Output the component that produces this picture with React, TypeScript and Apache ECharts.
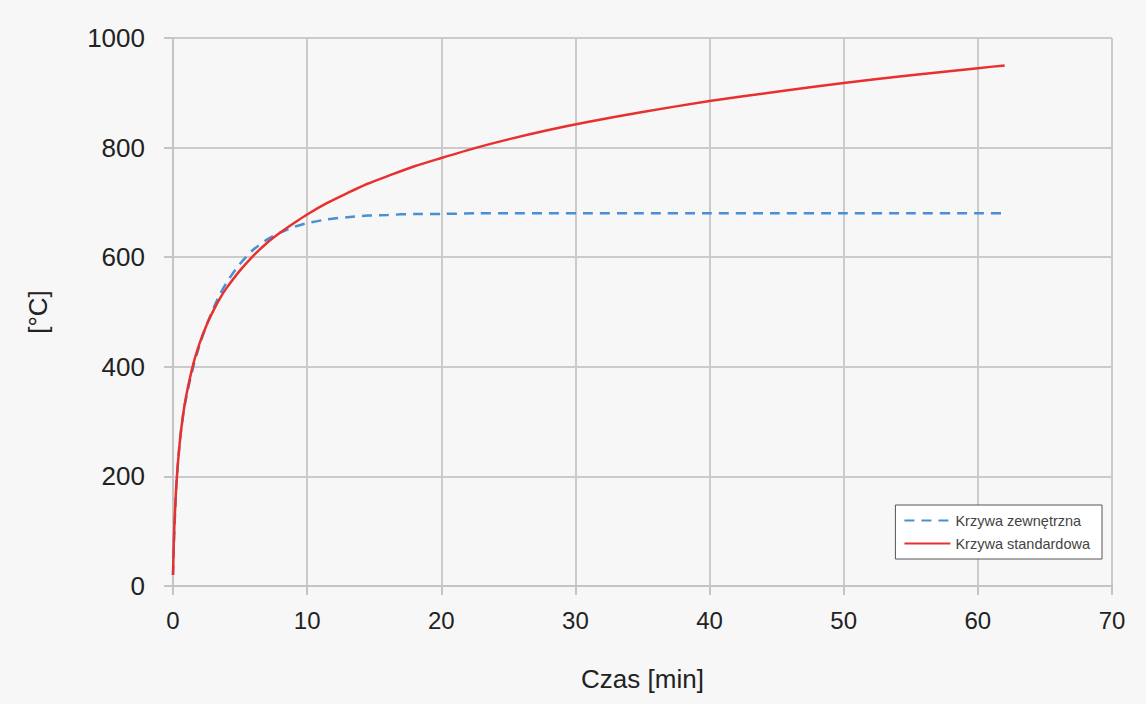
import React, { useEffect, useRef } from "react";
import * as echarts from "echarts";

const times = [0, 0.05, 0.1, 0.25, 0.5, 0.75, 1, 1.5, 2, 2.5, 3, 3.5, 4, 5, 6, 7, 8, 9, 10, 11.5, 13, 14.5, 16, 18, 20, 22.5, 25, 28, 31, 35, 40, 45, 50, 55, 60, 62];
const standardCurve = [20, 70, 108, 185, 261, 312, 349, 404, 444, 476, 502, 525, 544, 576, 603, 626, 645, 662, 678, 699, 717, 734, 748, 766, 781, 799, 815, 832, 847, 865, 885, 902, 918, 932, 945, 950];
const externalCurve = [20, 63, 100, 182, 263, 311, 346, 399, 441, 476, 506, 532, 554, 588, 614, 632, 645, 655, 662, 669, 673, 676, 677, 679, 679, 680, 680, 680, 680, 680, 680, 680, 680, 680, 680, 680];
const seriesNames = ["Krzywa zewnętrzna", "Krzywa standardowa"];
const xAxisTitle = "Czas [min]";
const yAxisTitle = "[°C]";

export default function App() {
  const ref = useRef<HTMLDivElement>(null);
  useEffect(() => {
    if (!ref.current) return;
    const chart = echarts.init(ref.current, null, { renderer: "svg" });
    const ext = times.map((t, i) => [t, externalCurve[i]]);
    const std = times.map((t, i) => [t, standardCurve[i]]);
    chart.setOption({
      animation: false,
      backgroundColor: "#f7f7f7",
      grid: { left: 173, right: 34, top: 38, bottom: 118 },
      legend: {
        orient: "vertical",
        right: 44,
        top: 505,
        data: seriesNames,
        backgroundColor: "#ffffff",
        borderColor: "#555555",
        borderWidth: 1,
        borderRadius: 0,
        padding: [8, 12, 8, 8],
        itemWidth: 46,
        itemHeight: 12,
        itemGap: 8,
        itemStyle: { opacity: 0 },
        textStyle: { fontFamily: "Liberation Sans", fontSize: 14.5, color: "#444444" },
      },
      xAxis: {
        type: "value",
        min: 0,
        max: 70,
        interval: 10,
        name: xAxisTitle,
        nameLocation: "middle",
        nameGap: 80,
        nameTextStyle: { fontFamily: "Liberation Sans Narrow, Liberation Sans", fontSize: 26, color: "#222222" },
        axisLine: { show: true, lineStyle: { color: "#c4c4c4", width: 2 } },
        axisTick: { show: true, length: 9, lineStyle: { color: "#c4c4c4", width: 2 } },
        axisLabel: { margin: 22, fontFamily: "Liberation Sans Narrow, Liberation Sans", fontSize: 24, color: "#222222" },
        splitLine: { show: true, lineStyle: { color: "#cbcbcb", width: 2 } },
      },
      yAxis: {
        type: "value",
        min: 0,
        max: 1000,
        interval: 200,
        name: yAxisTitle,
        nameLocation: "middle",
        nameGap: 122,
        nameRotate: 90,
        nameTextStyle: { fontFamily: "Liberation Sans", fontSize: 26, color: "#222222" },
        axisLine: { show: true, lineStyle: { color: "#c4c4c4", width: 2 } },
        axisTick: { show: true, length: 9, lineStyle: { color: "#c4c4c4", width: 2 } },
        axisLabel: {
          margin: 28,
          fontFamily: "Liberation Sans",
          fontSize: 26,
          color: "#222222",
          formatter: (v: number) => String(v),
        },
        splitLine: { show: true, lineStyle: { color: "#cbcbcb", width: 2 } },
      },
      series: [
        {
          name: seriesNames[0],
          type: "line",
          data: ext,
          symbol: "none",
          smooth: 0.25,
          itemStyle: { color: "#4690d4" },
          lineStyle: { color: "#4690d4", width: 2.5, type: [10, 7] },
          z: 2,
        },
        {
          name: seriesNames[1],
          type: "line",
          data: std,
          symbol: "none",
          smooth: 0.25,
          itemStyle: { color: "#e8312f" },
          lineStyle: { color: "#e8312f", width: 2.5 },
          z: 3,
        },
      ],
    });
    return () => chart.dispose();
  }, []);
  return (
    <div
      ref={ref}
      style={{ position: "fixed", left: 0, top: 0, width: 1146, height: 704 }}
    />
  );
}
